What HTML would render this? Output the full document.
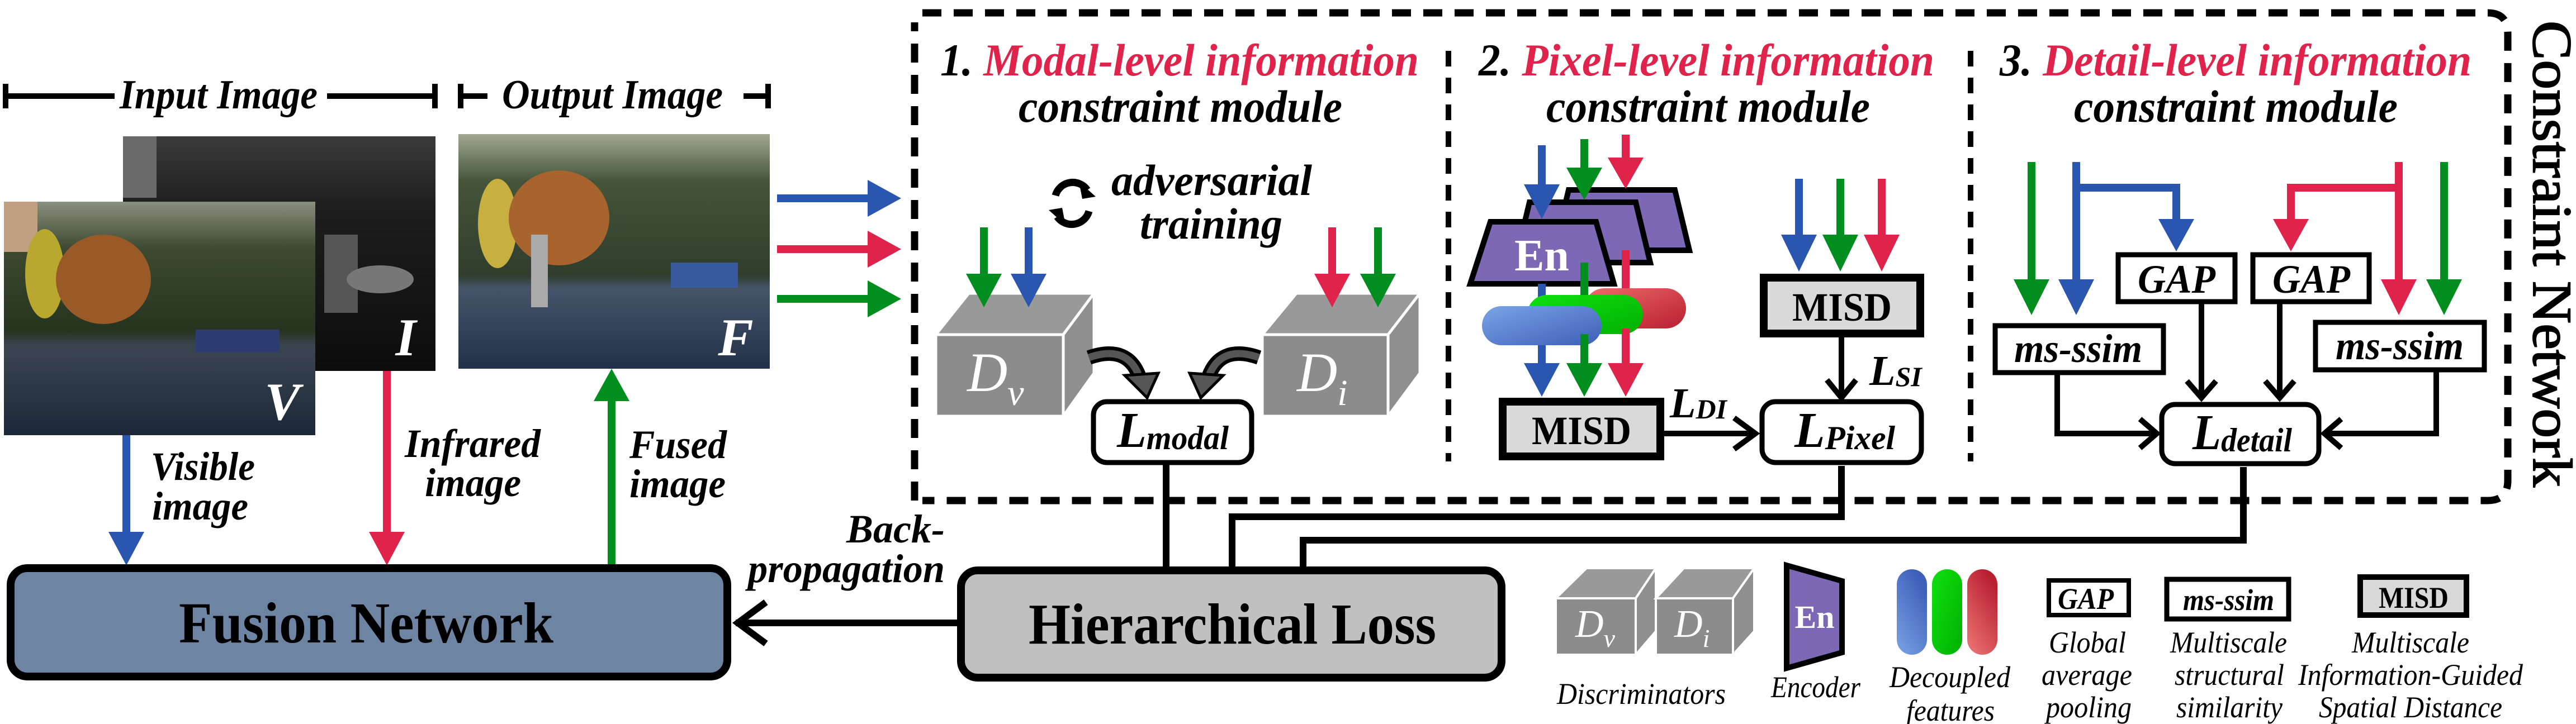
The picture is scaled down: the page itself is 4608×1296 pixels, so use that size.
<!DOCTYPE html>
<html><head><meta charset="utf-8"><style>
html,body{margin:0;padding:0;background:#fff;}
svg{display:block;}
text{font-family:"Liberation Serif",serif;}
</style></head><body>
<svg width="4608" height="1296" viewBox="0 0 4608 1296" xmlns="http://www.w3.org/2000/svg">
<defs>
<linearGradient id="photoV" x1="0" y1="0" x2="0" y2="1">
<stop offset="0" stop-color="#8a8f80"/><stop offset="0.2" stop-color="#3d4a30"/><stop offset="0.55" stop-color="#26331f"/><stop offset="0.62" stop-color="#3a4550"/><stop offset="1" stop-color="#1c2838"/></linearGradient>
<linearGradient id="photoI" x1="0" y1="0" x2="0" y2="1">
<stop offset="0" stop-color="#3a3a3a"/><stop offset="0.3" stop-color="#1e1e1e"/><stop offset="0.7" stop-color="#141414"/><stop offset="1" stop-color="#0c0c0c"/></linearGradient>
<linearGradient id="photoF" x1="0" y1="0" x2="0" y2="1">
<stop offset="0" stop-color="#a0a890"/><stop offset="0.2" stop-color="#45553a"/><stop offset="0.6" stop-color="#2f3d2c"/><stop offset="0.66" stop-color="#46546a"/><stop offset="1" stop-color="#223048"/></linearGradient>
<linearGradient id="pb" x1="0" y1="0" x2="1" y2="1"><stop offset="0" stop-color="#7aa4e6"/><stop offset="1" stop-color="#3d5fb8"/></linearGradient>
<linearGradient id="pg" x1="0" y1="0" x2="1" y2="1"><stop offset="0" stop-color="#10e010"/><stop offset="1" stop-color="#00b000"/></linearGradient>
<linearGradient id="pr" x1="0" y1="0" x2="1" y2="1"><stop offset="0" stop-color="#ee6a6a"/><stop offset="1" stop-color="#b82030"/></linearGradient>
<linearGradient id="pbv" x1="0" y1="1" x2="0.6" y2="0"><stop offset="0" stop-color="#7aa4e6"/><stop offset="1" stop-color="#3d5fb8"/></linearGradient>
<linearGradient id="prv" x1="0" y1="1" x2="0.6" y2="0"><stop offset="0" stop-color="#f07878"/><stop offset="1" stop-color="#b82030"/></linearGradient>
</defs>

<g stroke="#000" stroke-width="10">
<line x1="10" y1="172" x2="205" y2="172"/><line x1="10" y1="150" x2="10" y2="194"/>
<line x1="585" y1="172" x2="778" y2="172"/><line x1="778" y1="150" x2="778" y2="194"/>
<line x1="824" y1="172" x2="872" y2="172"/><line x1="824" y1="150" x2="824" y2="194"/>
<line x1="1330" y1="172" x2="1374" y2="172"/><line x1="1374" y1="150" x2="1374" y2="194"/>
</g>
<text x="214" y="194" font-size="74" font-style="italic" font-weight="bold" textLength="354" lengthAdjust="spacingAndGlyphs">Input Image</text>
<text x="898" y="194" font-size="74" font-style="italic" font-weight="bold" textLength="395" lengthAdjust="spacingAndGlyphs">Output Image</text>

<rect x="220" y="244" width="559" height="420" fill="url(#photoI)"/>
<rect x="220" y="244" width="60" height="110" fill="#6a6a6a"/>
<rect x="580" y="420" width="60" height="140" fill="#555"/>
<ellipse cx="680" cy="500" rx="60" ry="25" fill="#777"/>
<text x="726" y="636" font-size="95" font-style="italic" font-weight="bold" fill="#fff" text-anchor="middle">I</text>
<rect x="7" y="361" width="557" height="418" fill="url(#photoV)"/>
<rect x="7" y="361" width="60" height="90" fill="#c0a080"/>
<ellipse cx="80" cy="490" rx="35" ry="80" fill="#b8a830"/>
<ellipse cx="185" cy="500" rx="85" ry="80" fill="#9a5a28"/>
<rect x="350" y="590" width="150" height="40" fill="#2a3c70"/>
<text x="505" y="751" font-size="95" font-style="italic" font-weight="bold" fill="#fff" text-anchor="middle">V</text>
<rect x="820" y="240" width="557" height="420" fill="url(#photoF)"/>
<ellipse cx="890" cy="400" rx="35" ry="80" fill="#c8b040"/>
<ellipse cx="1000" cy="390" rx="90" ry="85" fill="#a8642e"/>
<rect x="1200" y="470" width="120" height="45" fill="#3a5aa0"/>
<rect x="950" y="420" width="30" height="130" fill="#aaa"/>
<text x="1316" y="636" font-size="95" font-style="italic" font-weight="bold" fill="#fff" text-anchor="middle">F</text>

<g stroke-width="14">
<line x1="1390" y1="355" x2="1560" y2="355" stroke="#2a56b0"/>
<line x1="1390" y1="446" x2="1560" y2="446" stroke="#e0234a"/>
<line x1="1390" y1="535" x2="1560" y2="535" stroke="#008f1f"/>
</g>
<polygon points="1552,322 1612,355 1552,388" fill="#2a56b0"/>
<polygon points="1552,413 1612,446 1552,479" fill="#e0234a"/>
<polygon points="1552,502 1612,535 1552,568" fill="#008f1f"/>

<line x1="226" y1="779" x2="226" y2="960" stroke="#2a56b0" stroke-width="14"/>
<polygon points="194,952 258,952 226,1012" fill="#2a56b0"/>
<line x1="692" y1="664" x2="692" y2="960" stroke="#e0234a" stroke-width="14"/>
<polygon points="660,952 724,952 692,1012" fill="#e0234a"/>
<line x1="1094" y1="1012" x2="1094" y2="710" stroke="#008f1f" stroke-width="14"/>
<polygon points="1062,718 1126,718 1094,660" fill="#008f1f"/>

<g font-size="72" font-style="italic" font-weight="bold">
<text x="270" y="859" textLength="186" lengthAdjust="spacingAndGlyphs">Visible</text><text x="272" y="930" textLength="172" lengthAdjust="spacingAndGlyphs">image</text>
<text x="724" y="818" textLength="243" lengthAdjust="spacingAndGlyphs">Infrared</text><text x="760" y="888" textLength="172" lengthAdjust="spacingAndGlyphs">image</text>
<text x="1126" y="820" textLength="174" lengthAdjust="spacingAndGlyphs">Fused</text><text x="1126" y="890" textLength="172" lengthAdjust="spacingAndGlyphs">image</text>
<text x="1690" y="971" text-anchor="end">Back-</text><text x="1338" y="1042" textLength="352" lengthAdjust="spacingAndGlyphs">propagation</text>
</g>

<rect x="19" y="1017" width="1282" height="194" rx="30" fill="#6e84a3" stroke="#000" stroke-width="14"/>
<text x="320" y="1150" font-size="104" font-weight="bold" textLength="670" lengthAdjust="spacingAndGlyphs">Fusion Network</text>

<line x1="1712" y1="1115" x2="1316" y2="1115" stroke="#000" stroke-width="12"/>
<polyline points="1370,1078 1320,1115 1370,1152" fill="none" stroke="#000" stroke-width="12"/>

<rect x="1719" y="1021" width="967" height="192" rx="30" fill="#c0c0c0" stroke="#000" stroke-width="14"/>
<text x="1840" y="1152" font-size="104" font-weight="bold" textLength="729" lengthAdjust="spacingAndGlyphs">Hierarchical Loss</text>

<path d="M1636,896 L1636,40 M1650,23 L4450,23 Q4486,23 4486,60 L4486,860 Q4486,896 4450,896 L1650,896" fill="none" stroke="#000" stroke-width="13" stroke-dasharray="34,22"/>
<line x1="2591" y1="91" x2="2591" y2="826" stroke="#000" stroke-width="10" stroke-dasharray="28,20"/>
<line x1="3525" y1="91" x2="3525" y2="826" stroke="#000" stroke-width="10" stroke-dasharray="28,20"/>
<text transform="translate(4532,37) rotate(90)" font-size="100" textLength="835" lengthAdjust="spacingAndGlyphs" stroke="#000" stroke-width="2">Constraint Network</text>

<g font-size="82" font-style="italic" font-weight="bold">
<text x="1682" y="135" textLength="856" lengthAdjust="spacingAndGlyphs"><tspan fill="#000">1. </tspan><tspan fill="#e0234a">Modal-level information</tspan></text>
<text x="1822" y="218" textLength="579" lengthAdjust="spacingAndGlyphs">constraint module</text>
<text x="2645" y="135" textLength="815" lengthAdjust="spacingAndGlyphs"><tspan fill="#000">2. </tspan><tspan fill="#e0234a">Pixel-level information</tspan></text>
<text x="2766" y="218" textLength="579" lengthAdjust="spacingAndGlyphs">constraint module</text>
<text x="3577" y="135" textLength="844" lengthAdjust="spacingAndGlyphs"><tspan fill="#000">3. </tspan><tspan fill="#e0234a">Detail-level information</tspan></text>
<text x="3710" y="218" textLength="579" lengthAdjust="spacingAndGlyphs">constraint module</text>
</g>

<g fill="none" stroke="#000" stroke-width="13">
<path d="M1888,350 A32,32 0 0 1 1945,340"/>
<path d="M1948,378 A32,32 0 0 1 1891,388"/>
</g>
<polygon points="1930,325 1960,352 1936,356" fill="#000"/>
<polygon points="1906,403 1876,376 1900,372" fill="#000"/>
<text x="1988" y="349" font-size="78" font-style="italic" font-weight="bold" textLength="359" lengthAdjust="spacingAndGlyphs">adversarial</text>
<text x="2039" y="427" font-size="78" font-style="italic" font-weight="bold" textLength="255" lengthAdjust="spacingAndGlyphs">training</text>

<g stroke="#fff" stroke-width="5">
<polygon points="1674,599 1733,525 1957,525 1902,599" fill="#999"/>
<polygon points="1902,599 1957,525 1957,668 1902,745" fill="#8f8f8f"/>
<rect x="1674" y="599" width="228" height="146" fill="#8c8c8c"/>
</g>
<text x="1730" y="700" font-size="100" font-style="italic" fill="#fff">D<tspan font-size="66" dy="25">v</tspan></text>
<g stroke="#fff" stroke-width="5">
<polygon points="2258,599 2319,525 2540,525 2483,599" fill="#999"/>
<polygon points="2483,599 2540,525 2540,668 2483,745" fill="#8f8f8f"/>
<rect x="2258" y="599" width="225" height="146" fill="#8c8c8c"/>
</g>
<text x="2320" y="700" font-size="100" font-style="italic" fill="#fff">D<tspan font-size="66" dy="25">i</tspan></text>

<g stroke-width="14">
<line x1="1760" y1="407" x2="1760" y2="500" stroke="#008f1f"/>
<line x1="1840" y1="407" x2="1840" y2="500" stroke="#2a56b0"/>
<line x1="2383" y1="407" x2="2383" y2="500" stroke="#e0234a"/>
<line x1="2465" y1="407" x2="2465" y2="500" stroke="#008f1f"/>
</g>
<polygon points="1728,490 1792,490 1760,550" fill="#008f1f"/>
<polygon points="1808,490 1872,490 1840,550" fill="#2a56b0"/>
<polygon points="2351,490 2415,490 2383,550" fill="#e0234a"/>
<polygon points="2433,490 2497,490 2465,550" fill="#008f1f"/>

<path d="M1948,640 Q2020,615 2040,680" fill="none" stroke="#000" stroke-width="26"/>
<path d="M1948,640 Q2020,615 2040,680" fill="none" stroke="#555" stroke-width="13"/>
<polygon points="2012,672 2072,668 2052,712" fill="#555" stroke="#000" stroke-width="5"/>
<path d="M2252,640 Q2180,615 2160,680" fill="none" stroke="#000" stroke-width="26"/>
<path d="M2252,640 Q2180,615 2160,680" fill="none" stroke="#555" stroke-width="13"/>
<polygon points="2188,672 2128,668 2148,712" fill="#555" stroke="#000" stroke-width="5"/>

<rect x="1956" y="719" width="283" height="109" rx="24" fill="#fff" stroke="#000" stroke-width="9"/>
<text x="1998" y="800" font-size="90" font-style="italic" font-weight="bold" textLength="200" lengthAdjust="spacingAndGlyphs">L<tspan font-size="60" dy="4">modal</tspan></text>
<line x1="2086" y1="832" x2="2086" y2="1014" stroke="#000" stroke-width="12"/>

<polyline points="2204,1014 2204,925 3294,925 3294,834" fill="none" stroke="#000" stroke-width="12"/>
<polyline points="2331,1014 2331,967 4013,967 4013,836" fill="none" stroke="#000" stroke-width="12"/>

<g stroke="#000" stroke-width="10" fill="#7d68b5">
<polygon points="2806,340 2996,340 3022,448 2780,448"/>
<polygon points="2736,362 2926,362 2952,470 2710,470"/>
<polygon points="2666,397 2855,397 2887,508 2630,508"/>
</g>
<text x="2758" y="484" font-size="80" font-weight="bold" fill="#fff" text-anchor="middle">En</text>
<g stroke-width="14">
<line x1="2758" y1="260" x2="2758" y2="340" stroke="#2a56b0"/>
<line x1="2834" y1="249" x2="2834" y2="310" stroke="#008f1f"/>
<line x1="2908" y1="241" x2="2908" y2="290" stroke="#e0234a"/>
</g>
<polygon points="2726,330 2790,330 2758,392" fill="#2a56b0"/>
<polygon points="2802,300 2866,300 2834,358" fill="#008f1f"/>
<polygon points="2876,282 2940,282 2908,338" fill="#e0234a"/>
<line x1="2908" y1="448" x2="2908" y2="520" stroke="#e0234a" stroke-width="14"/>
<line x1="2834" y1="470" x2="2834" y2="530" stroke="#008f1f" stroke-width="14"/>
<line x1="2758" y1="508" x2="2758" y2="550" stroke="#2a56b0" stroke-width="14"/>
<rect x="2834" y="516" width="182" height="72" rx="36" fill="url(#pr)"/>
<rect x="2732" y="528" width="207" height="70" rx="35" fill="url(#pg)"/>
<rect x="2651" y="548" width="214" height="70" rx="35" fill="url(#pb)"/>
<g stroke-width="14">
<line x1="2758" y1="618" x2="2758" y2="660" stroke="#2a56b0"/>
<line x1="2834" y1="598" x2="2834" y2="660" stroke="#008f1f"/>
<line x1="2908" y1="588" x2="2908" y2="660" stroke="#e0234a"/>
</g>
<polygon points="2726,650 2790,650 2758,710" fill="#2a56b0"/>
<polygon points="2802,650 2866,650 2834,710" fill="#008f1f"/>
<polygon points="2876,650 2940,650 2908,710" fill="#e0234a"/>

<rect x="2688" y="719" width="282" height="98" fill="#d9d9d9" stroke="#000" stroke-width="14"/>
<text x="2740" y="795" font-size="72" font-weight="bold" textLength="178" lengthAdjust="spacingAndGlyphs">MISD</text>
<text x="2987" y="747" font-size="76" font-style="italic" font-weight="bold">L<tspan font-size="50" dy="2">DI</tspan></text>
<line x1="2977" y1="776" x2="3140" y2="776" stroke="#000" stroke-width="10"/>
<polyline points="3102,748 3140,776 3102,804" fill="none" stroke="#000" stroke-width="10"/>

<rect x="3152" y="719" width="285" height="109" rx="24" fill="#fff" stroke="#000" stroke-width="9"/>
<text x="3210" y="800" font-size="90" font-style="italic" font-weight="bold" textLength="180" lengthAdjust="spacingAndGlyphs">L<tspan font-size="60" dy="4">Pixel</tspan></text>

<rect x="3155" y="497" width="280" height="100" fill="#d9d9d9" stroke="#000" stroke-width="14"/>
<text x="3206" y="574" font-size="72" font-weight="bold" textLength="178" lengthAdjust="spacingAndGlyphs">MISD</text>
<g stroke-width="14">
<line x1="3218" y1="320" x2="3218" y2="430" stroke="#2a56b0"/>
<line x1="3292" y1="320" x2="3292" y2="430" stroke="#008f1f"/>
<line x1="3366" y1="320" x2="3366" y2="430" stroke="#e0234a"/>
</g>
<polygon points="3186,420 3250,420 3218,486" fill="#2a56b0"/>
<polygon points="3260,420 3324,420 3292,486" fill="#008f1f"/>
<polygon points="3334,420 3398,420 3366,486" fill="#e0234a"/>
<line x1="3294" y1="604" x2="3294" y2="712" stroke="#000" stroke-width="10"/>
<polyline points="3268,680 3294,712 3320,680" fill="none" stroke="#000" stroke-width="10"/>
<text x="3344" y="689" font-size="76" font-style="italic" font-weight="bold">L<tspan font-size="50" dy="2">SI</tspan></text>

<g stroke-width="14" fill="none">
<line x1="3634" y1="290" x2="3634" y2="510" stroke="#008f1f"/>
<polyline points="3714,290 3714,510" stroke="#2a56b0"/>
<polyline points="3714,336 3893,336 3893,400" stroke="#2a56b0"/>
<line x1="4291" y1="290" x2="4291" y2="510" stroke="#e0234a"/>
<polyline points="4291,336 4098,336 4098,400" stroke="#e0234a"/>
<line x1="4372" y1="290" x2="4372" y2="510" stroke="#008f1f"/>
</g>
<polygon points="3602,500 3666,500 3634,564" fill="#008f1f"/>
<polygon points="3682,500 3746,500 3714,564" fill="#2a56b0"/>
<polygon points="3861,392 3925,392 3893,450" fill="#2a56b0"/>
<polygon points="4066,392 4130,392 4098,450" fill="#e0234a"/>
<polygon points="4259,500 4323,500 4291,564" fill="#e0234a"/>
<polygon points="4340,500 4404,500 4372,564" fill="#008f1f"/>

<g fill="#fff" stroke="#000" stroke-width="9">
<rect x="3789" y="456" width="209" height="84"/>
<rect x="4030" y="456" width="208" height="84"/>
<rect x="3569" y="583" width="301" height="84"/>
<rect x="4142" y="577" width="302" height="85"/>
</g>
<g font-size="72" font-style="italic" font-weight="bold">
<text x="3824" y="524" textLength="139" lengthAdjust="spacingAndGlyphs">GAP</text>
<text x="4065" y="524" textLength="139" lengthAdjust="spacingAndGlyphs">GAP</text>
<text x="3603" y="648" textLength="229" lengthAdjust="spacingAndGlyphs">ms-ssim</text>
<text x="4178" y="643" textLength="229" lengthAdjust="spacingAndGlyphs">ms-ssim</text>
</g>
<g fill="none" stroke="#000" stroke-width="10">
<line x1="3938" y1="544" x2="3938" y2="712"/><polyline points="3912,682 3938,712 3964,682"/>
<line x1="4078" y1="544" x2="4078" y2="712"/><polyline points="4052,682 4078,712 4104,682"/>
<polyline points="3680,671 3680,776 3858,776"/><polyline points="3828,750 3858,776 3828,802"/>
<polyline points="4358,666 4358,776 4158,776"/><polyline points="4188,750 4158,776 4188,802"/>
</g>
<rect x="3867" y="724" width="281" height="106" rx="24" fill="#fff" stroke="#000" stroke-width="9"/>
<text x="3922" y="804" font-size="90" font-style="italic" font-weight="bold" textLength="178" lengthAdjust="spacingAndGlyphs">L<tspan font-size="60" dy="4">detail</tspan></text>

<g stroke="#fff" stroke-width="4">
<polygon points="2783,1071 2838,1017 2962,1017 2926,1071" fill="#999"/>
<polygon points="2926,1071 2962,1017 2962,1130 2926,1172" fill="#8f8f8f"/>
<rect x="2783" y="1071" width="143" height="101" fill="#8c8c8c"/>
<polygon points="2962,1071 3012,1017 3138,1017 3100,1071" fill="#999"/>
<polygon points="3100,1071 3138,1017 3138,1130 3100,1172" fill="#8f8f8f"/>
<rect x="2962" y="1071" width="138" height="101" fill="#8c8c8c"/>
</g>
<text x="2818" y="1140" font-size="70" font-style="italic" fill="#fff">D<tspan font-size="46" dy="18">v</tspan></text>
<text x="2995" y="1140" font-size="70" font-style="italic" fill="#fff">D<tspan font-size="46" dy="18">i</tspan></text>
<polygon points="3196,1012 3295,1040 3295,1168 3196,1196" fill="#7d68b5" stroke="#000" stroke-width="10"/>
<text x="3246" y="1124" font-size="58" font-weight="bold" fill="#fff" text-anchor="middle">En</text>
<rect x="3393" y="1019" width="54" height="153" rx="27" fill="url(#pbv)"/>
<rect x="3456" y="1019" width="54" height="153" rx="27" fill="url(#pg)"/>
<rect x="3519" y="1019" width="54" height="153" rx="27" fill="url(#prv)"/>
<rect x="3665" y="1039" width="143" height="62" fill="#fff" stroke="#000" stroke-width="8"/>
<text x="3681" y="1090" font-size="54" font-style="italic" font-weight="bold" textLength="100" lengthAdjust="spacingAndGlyphs">GAP</text>
<rect x="3876" y="1037" width="218" height="71" fill="#fff" stroke="#000" stroke-width="9"/>
<text x="3905" y="1092" font-size="54" font-style="italic" font-weight="bold" textLength="163" lengthAdjust="spacingAndGlyphs">ms-ssim</text>
<rect x="4222" y="1033" width="190" height="68" fill="#d9d9d9" stroke="#000" stroke-width="10"/>
<text x="4255" y="1088" font-size="54" font-weight="bold" textLength="125" lengthAdjust="spacingAndGlyphs">MISD</text>

<g font-size="54" font-style="italic">
<text x="2785" y="1260" textLength="302" lengthAdjust="spacingAndGlyphs">Discriminators</text>
<text x="3168" y="1248" textLength="160" lengthAdjust="spacingAndGlyphs">Encoder</text>
<text x="3380" y="1230" textLength="216" lengthAdjust="spacingAndGlyphs">Decoupled</text><text x="3410" y="1290" textLength="158" lengthAdjust="spacingAndGlyphs">features</text>
<text x="3665" y="1168" textLength="138" lengthAdjust="spacingAndGlyphs">Global</text><text x="3652" y="1226" textLength="162" lengthAdjust="spacingAndGlyphs">average</text><text x="3660" y="1284" textLength="153" lengthAdjust="spacingAndGlyphs">pooling</text>
<text x="3882" y="1168" textLength="209" lengthAdjust="spacingAndGlyphs">Multiscale</text><text x="3890" y="1226" textLength="196" lengthAdjust="spacingAndGlyphs">structural</text><text x="3893" y="1284" textLength="190" lengthAdjust="spacingAndGlyphs">similarity</text>
<text x="4207" y="1168" textLength="210" lengthAdjust="spacingAndGlyphs">Multiscale</text><text x="4111" y="1226" textLength="402" lengthAdjust="spacingAndGlyphs">Information-Guided</text><text x="4148" y="1284" textLength="328" lengthAdjust="spacingAndGlyphs">Spatial Distance</text>
</g>
</svg>
</body></html>
